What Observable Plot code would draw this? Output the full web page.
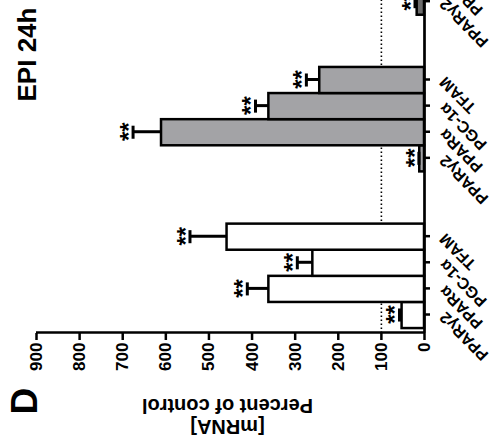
<!DOCTYPE html>
<html><head><meta charset="utf-8">
<script src="https://cdn.jsdelivr.net/npm/d3@7"></script>
<script src="https://cdn.jsdelivr.net/npm/@observablehq/plot@0.6"></script>
<style>
html,body{margin:0;padding:0;background:#fff;overflow:hidden;width:497px;height:436px;}
#wrap{position:absolute;left:0;top:0;width:436px;height:497px;transform-origin:0 0;transform:translate(0,436px) rotate(-90deg);}
</style></head><body><div id="wrap"></div>
<script>
// ---- data ----
const categories = ["PPARγ2", "PPARα", "PGC-1α", "TFAM"];
const group1Values = [52, 361, 259, 458];
const group1ErrTop = [58, 411, 295, 544];
const group1Stars  = ["**", "**", "**", "**"];
const group2Values = [11, 610, 361, 243];
const group2ErrTop = [13, 676, 392, 274];
const group2Stars  = ["**", "**", "**", "**"];
const group3Values = [17];
const group3ErrTop = [22];
const group3Stars  = ["**"];
const yTicks = [0, 100, 200, 300, 400, 500, 600, 700, 800, 900];
const referenceLine = [100];
const panelLetter = "D";
const panelTitle = "EPI 24h";
const yLabelLine1 = "Percent of control";
const yLabelLine2 = "[mRNA]";

// ---- styles / layout ----
const FONT = "'Liberation Sans', Arial, Helvetica, sans-serif";
const groupFills = ["#ffffff", "#a3a3a6", "#6c6c6c"];
const slotsPerGroup = 6;
const xMin = -0.689, xMax = 12.064;

const groups = [
  {values: group1Values, err: group1ErrTop, stars: group1Stars},
  {values: group2Values, err: group2ErrTop, stars: group2Stars},
  {values: group3Values, err: group3ErrTop, stars: group3Stars}
];
const rows = groups.flatMap((g, gi) => g.values.map((v, i) => ({
  group: gi, slot: gi * slotsPerGroup + i, cat: categories[i], value: v, err: g.err[i], star: g.stars[i]
})));
const labelRows = groups.flatMap((g, gi) => categories.map((c, i) => ({slot: gi * slotsPerGroup + i, label: c})));

const chart = Plot.plot({
  width: 436, height: 497,
  marginLeft: 103, marginRight: 0, marginTop: 36, marginBottom: 73,
  x: {domain: [xMin, xMax]},
  y: {domain: [0, 900]},
  style: {fontFamily: FONT, background: "white", color: "black"},
  marks: [
    Plot.ruleY(referenceLine, {stroke: "black", strokeWidth: 1.6, strokeDasharray: "1.5,2.5"}),
    ...groupFills.map((f, gi) => Plot.rectY(rows.filter(d => d.group === gi), {
      x1: d => d.slot - 0.5, x2: d => d.slot + 0.5, y: "value",
      fill: f, stroke: "black", strokeWidth: 2.5
    })),
    Plot.ruleX(rows, {x: "slot", y1: "value", y2: "err", stroke: "black", strokeWidth: 3}),
    Plot.ruleY(rows, {y: "err", x1: d => d.slot - 0.25, x2: d => d.slot + 0.25, stroke: "black", strokeWidth: 3}),
    Plot.text(rows, {x: "slot", y: "err", text: "star", fontSize: 24, fontWeight: "bold", lineAnchor: "middle", dy: -4}),
    Plot.ruleY([0], {stroke: "black", strokeWidth: 2.7}),
    Plot.ruleX([xMin], {y1: 0, y2: 900, stroke: "black", strokeWidth: 2.7}),
    Plot.axisY(yTicks, {tickSize: 7, tickPadding: 3, fontSize: 17, fontWeight: "bold", strokeWidth: 2.5, label: null}),
    Plot.axisX(labelRows.map(d => d.slot), {tickSize: 6, strokeWidth: 2.5, fill: "none", label: null}),
    Plot.text(labelRows, {x: "slot", y: 0, text: "label", rotate: -45, textAnchor: "end", lineAnchor: "middle", dy: 18, fontSize: 16, fontWeight: "bold"}),
    Plot.text([panelLetter], {text: d => d, frameAnchor: "top-left", dx: -82, dy: -26, lineAnchor: "top", textAnchor: "start", fontSize: 37, fontWeight: "bold"}),
    Plot.text([panelTitle], {text: d => d, frameAnchor: "top-left", dx: 231, dy: -19, lineAnchor: "top", textAnchor: "start", fontSize: 26, fontWeight: "bold"}),
    Plot.text([yLabelLine1], {text: d => d, frameAnchor: "top-left", dx: -72.5, dy: 191, rotate: -90, lineAnchor: "middle", textAnchor: "middle", fontSize: 20, fontWeight: "bold"}),
    Plot.text([yLabelLine2], {text: d => d, frameAnchor: "top-left", dx: -93.5, dy: 191, rotate: -90, lineAnchor: "middle", textAnchor: "middle", fontSize: 20, fontWeight: "bold"})
  ]
});
document.getElementById("wrap").appendChild(chart);
</script>
</body></html>
